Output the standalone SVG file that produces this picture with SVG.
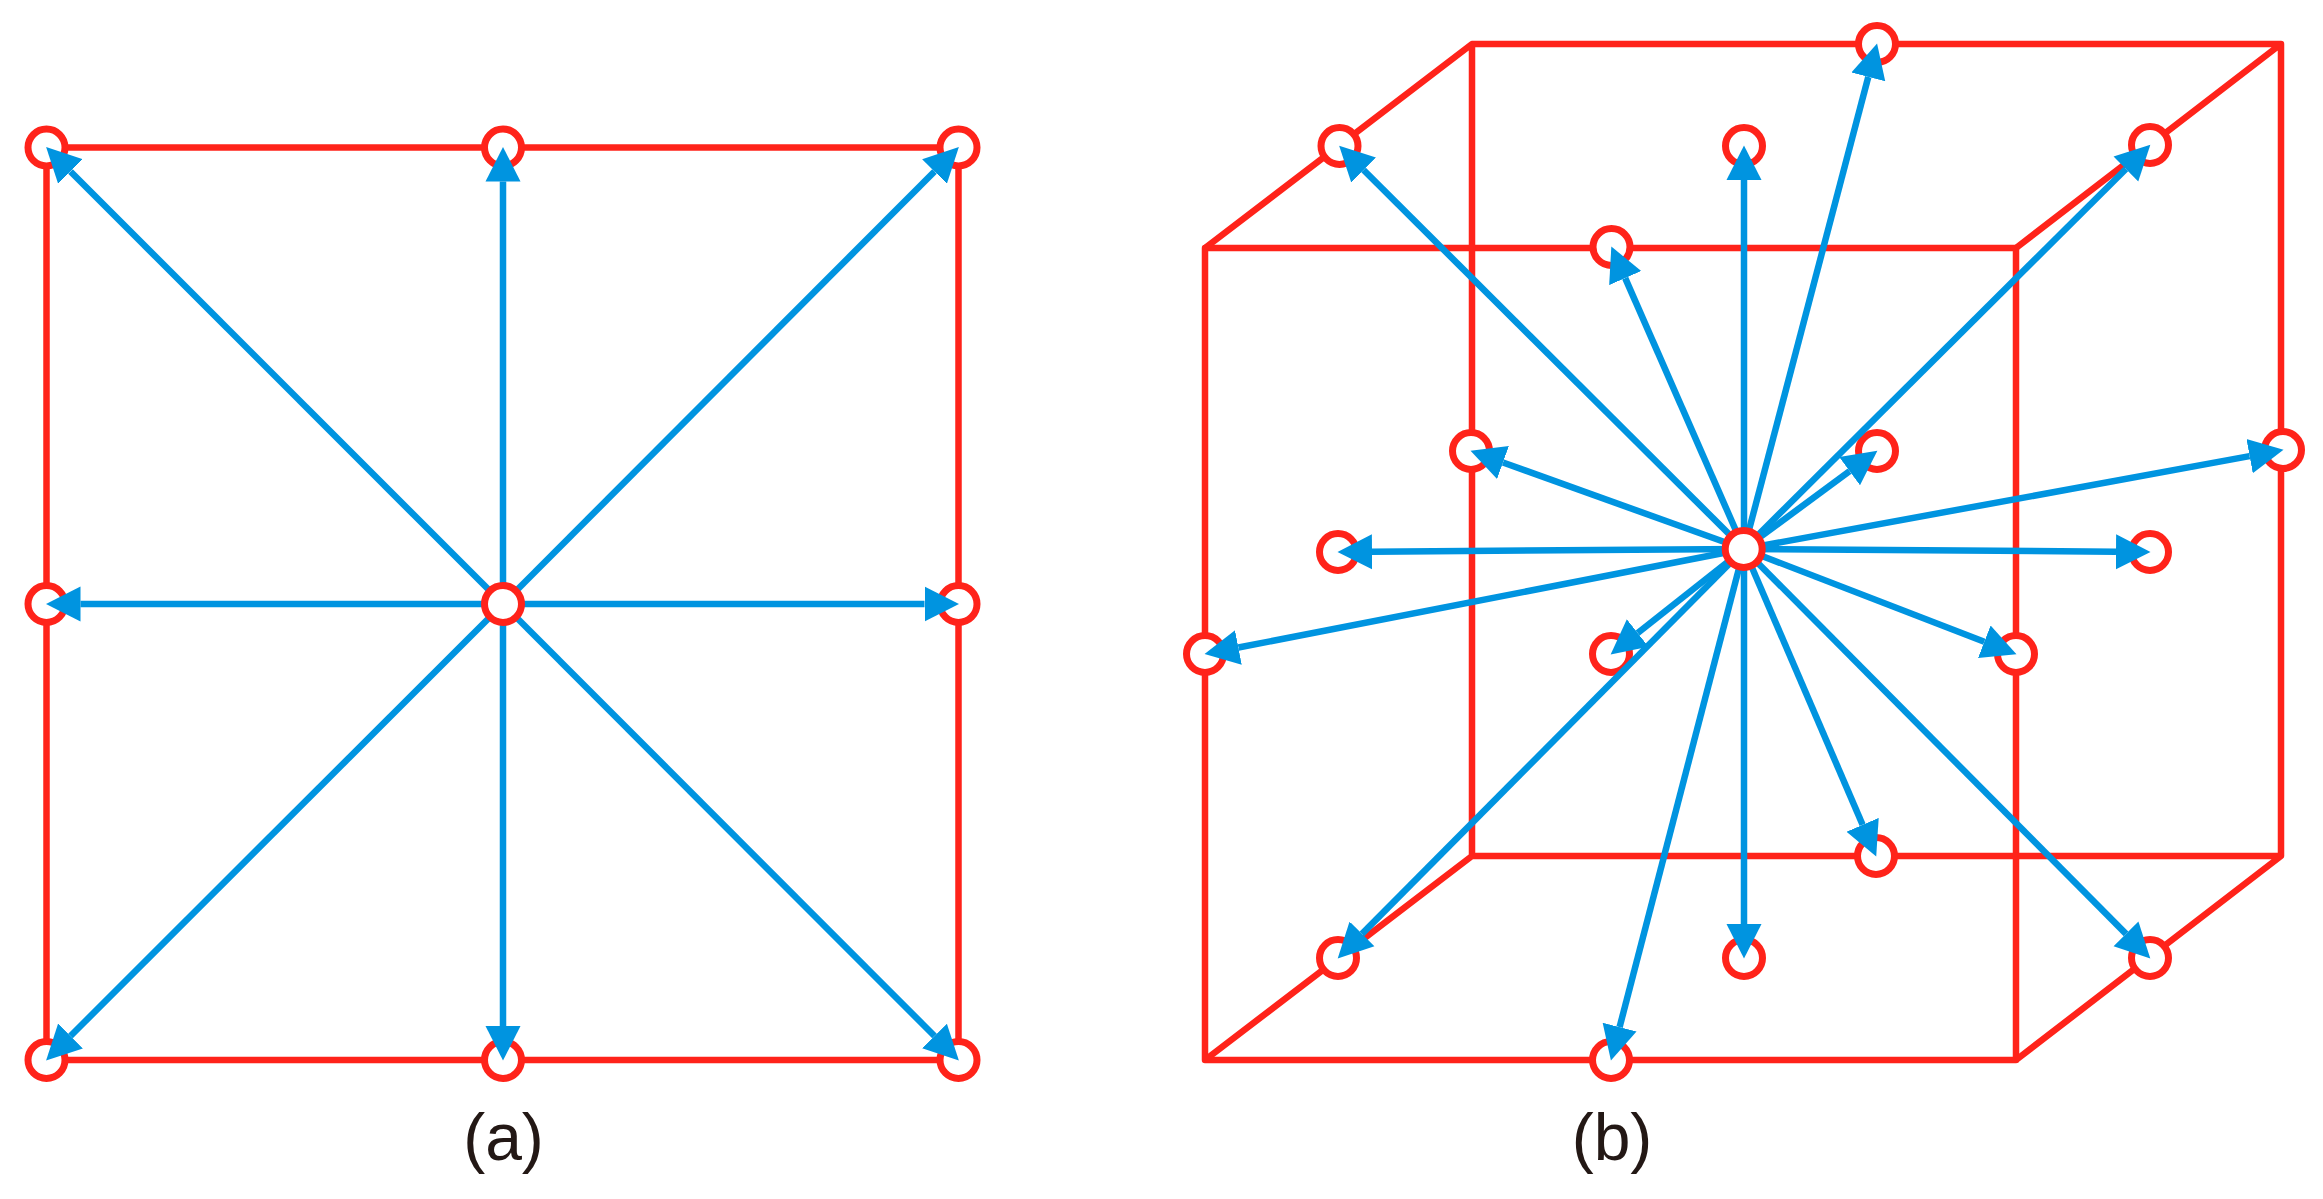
<svg xmlns="http://www.w3.org/2000/svg" width="2323" height="1199" viewBox="0 0 2323 1199">
<style>
.e{fill:none;stroke:#ff231a;stroke-width:6.5;stroke-linejoin:round}
.n{fill:#fff;stroke:#ff231a;stroke-width:7}
.c{fill:none;stroke:#0094e0;stroke-width:6.5;marker-end:url(#h)}
.t{font-family:"Liberation Sans",Arial,sans-serif;font-size:66px;fill:#231815;text-anchor:middle}
</style>
<defs>
<marker id="h" markerUnits="userSpaceOnUse" markerWidth="36" markerHeight="38" refX="0" refY="18" orient="auto" viewBox="0 0 36 36"><path d="M0 0.5L34.5 18L0 35.5Z" fill="#0094e0"/></marker>
</defs>
<rect width="2323" height="1199" fill="#fff"/>
<g id="edges">
<path class="e" d="M46.5 147.5H958.5V1060H46.5Z"/>
<path class="e" d="M1205 248H2016V1060H1205Z"/>
<path class="e" d="M1205 248L1472 44H2281V856L2016 1060M1472 44V856L1205 1060M1472 856H2281M2016 248L2281 44"/>
</g>
<g id="node-a-tl"><circle class="n" cx="46.5" cy="147.5" r="18.5"/></g>
<g id="node-a-t"><circle class="n" cx="503" cy="147.5" r="18.5"/></g>
<g id="node-a-tr"><circle class="n" cx="958.5" cy="147.5" r="18.5"/></g>
<g id="node-a-l"><circle class="n" cx="46.5" cy="604" r="18.5"/></g>
<g id="node-a-r"><circle class="n" cx="958.5" cy="604" r="18.5"/></g>
<g id="node-a-bl"><circle class="n" cx="46.5" cy="1060" r="18.5"/></g>
<g id="node-a-b"><circle class="n" cx="503" cy="1060" r="18.5"/></g>
<g id="node-a-br"><circle class="n" cx="958.5" cy="1060" r="18.5"/></g>
<g id="node-b-1"><circle class="n" cx="1339.5" cy="146" r="18.5"/></g>
<g id="node-b-2"><circle class="n" cx="1744" cy="146" r="18.5"/></g>
<g id="node-b-3"><circle class="n" cx="1877" cy="44" r="18.5"/></g>
<g id="node-b-4"><circle class="n" cx="2150" cy="145" r="18.5"/></g>
<g id="node-b-5"><circle class="n" cx="1611.5" cy="247" r="18.5"/></g>
<g id="node-b-6"><circle class="n" cx="1471" cy="451" r="18.5"/></g>
<g id="node-b-7"><circle class="n" cx="1877" cy="451" r="18.5"/></g>
<g id="node-b-8"><circle class="n" cx="2283" cy="450" r="18.5"/></g>
<g id="node-b-9"><circle class="n" cx="1338" cy="552" r="18.5"/></g>
<g id="node-b-10"><circle class="n" cx="2150" cy="552" r="18.5"/></g>
<g id="node-b-11"><circle class="n" cx="1205" cy="654" r="18.5"/></g>
<g id="node-b-12"><circle class="n" cx="2016" cy="654" r="18.5"/></g>
<g id="node-b-13"><circle class="n" cx="1611" cy="654" r="18.5"/></g>
<g id="node-b-14"><circle class="n" cx="1876" cy="856" r="18.5"/></g>
<g id="node-b-15"><circle class="n" cx="1338" cy="958" r="18.5"/></g>
<g id="node-b-16"><circle class="n" cx="1744" cy="958" r="18.5"/></g>
<g id="node-b-17"><circle class="n" cx="2150" cy="958" r="18.5"/></g>
<g id="node-b-18"><circle class="n" cx="1611" cy="1060" r="18.5"/></g>
<g id="connectors">
<path class="c" d="M503 604L70.5 171.5"/>
<path class="c" d="M503 604V181.5"/>
<path class="c" d="M503 604L934.5 171.5"/>
<path class="c" d="M503 604H80.5"/>
<path class="c" d="M503 604H924.5"/>
<path class="c" d="M503 604L70.5 1036"/>
<path class="c" d="M503 604V1026"/>
<path class="c" d="M503 604L934.5 1036"/>
<path class="c" d="M1744 549L1363.6 170"/>
<path class="c" d="M1744 549V180"/>
<path class="c" d="M1744 549L1868.3 76.9"/>
<path class="c" d="M1744 549L2125.9 169"/>
<path class="c" d="M1744 549L1625.2 278.1"/>
<path class="c" d="M1744 549L1503 462.5"/>
<path class="c" d="M1744 549L1849.6 471.2"/>
<path class="c" d="M1744 549L2249.6 456.1"/>
<path class="c" d="M1744 549L1372 551.7"/>
<path class="c" d="M1744 549L2116 551.7"/>
<path class="c" d="M1744 549L1238.4 647.5"/>
<path class="c" d="M1744 549L1984.3 641.8"/>
<path class="c" d="M1744 549L1637.7 633"/>
<path class="c" d="M1744 549L1862.6 824.8"/>
<path class="c" d="M1744 549L1362 933.9"/>
<path class="c" d="M1744 549V924"/>
<path class="c" d="M1744 549L2126 933.9"/>
<path class="c" d="M1744 549L1619.6 1027.1"/>
</g>
<g id="node-a-center"><circle class="n" cx="503" cy="604" r="18.5"/></g>
<g id="node-b-center"><circle class="n" cx="1743.7" cy="549" r="18.5"/></g>
<text class="t" x="503.5" y="1160">(a)</text>
<text class="t" x="1612" y="1160">(b)</text>
</svg>
